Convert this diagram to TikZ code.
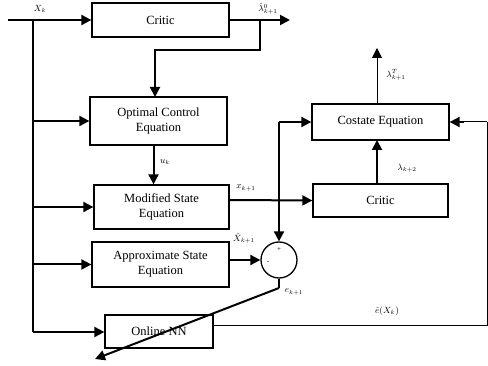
\documentclass[tikz,border=0pt]{standalone}
\usepackage{fontspec}
\setmainfont{Liberation Serif}
\usetikzlibrary{arrows.meta,calc}
\tikzset{
  blk/.style={draw, line width=1.3pt, align=center, inner sep=1pt,
    font=\fontsize{12.5}{15}\selectfont},
  arr/.style={line width=2pt, -{Triangle[length=10pt,width=10pt]}},
  wire/.style={line width=2pt},
  thin/.style={line width=1pt},
  lbl/.style={font=\fontsize{9}{10}\selectfont, inner sep=1pt},
  sumnode/.style={draw, circle, line width=1.3pt, minimum size=36pt, inner sep=0pt}
}
\begin{document}
\begin{tikzpicture}[x=1pt,y=-1pt]
\useasboundingbox (0,0) rectangle (488,366);

% blocks
\node[blk, minimum width=137pt, minimum height=34pt] (critA) at (160.5,20) {Critic};
\node[blk, minimum width=137pt, minimum height=48pt] (ocq) at (158.5,121) {Optimal Control\\Equation};
\node[blk, minimum width=135pt, minimum height=44pt] (mse) at (161.5,207) {Modified State\\Equation};
\node[blk, minimum width=137pt, minimum height=45pt] (ase) at (160.5,264.5) {Approximate State\\Equation};
\node[blk, minimum width=108pt, minimum height=33pt] (onn) at (159,331.5) {Online NN};
\node[blk, minimum width=137pt, minimum height=36pt] (cost) at (380.5,122) {Costate Equation};
\node[blk, minimum width=135pt, minimum height=33pt] (critB) at (380.5,200.5) {Critic};
\node[sumnode] (sum) at (279,260) {};
\node[font=\fontsize{7}{7}\selectfont] at (279,250) {+};
\node[font=\fontsize{7}{7}\selectfont] at (268,263) {-};

% free ends and branch points
\coordinate (in) at (8,20);
\coordinate (spine) at (33,20);
\coordinate (spineEnd) at (33,332);
\coordinate (lamOut) at (290,20);
\coordinate (tapA) at (260,20);
\coordinate (ocqIn) at (155,97);
\coordinate (costOut) at (377,48);
\coordinate (costLink) at (377,140);
\coordinate (errKnee) at (279,288);
\coordinate (errEnd) at (95,359);
\coordinate (fbCorner) at (487,326);

% state input and its distribution
\draw[arr] (in) -- (critA.west);
\draw[wire] (spine) -- (spineEnd);
\draw[arr] (spine |- ocq.west) -- (ocq.west);
\draw[arr] (spine |- mse.west) -- (mse.west);
\draw[arr] (spine |- ase.west) -- (ase.west);
\draw[arr] (spineEnd) -- (onn.west |- spineEnd);

% top critic output
\draw[arr] (critA.east) -- (lamOut);
\draw[arr] (tapA) -- (tapA |- 0,50) -| (ocqIn);

% control to modified state
\draw[arr] ([xshift=-5pt]ocq.south) -- ([xshift=-8pt]mse.north);

% modified state to second critic and costate
\draw[arr] ([yshift=7pt]mse.east) -- (critB.west);
\draw[wire] (sum.north |- cost.west) -- (sum.north |- critB.west);
\draw[arr] (sum.north |- cost.west) -- (cost.west);
\draw[arr] (sum.north |- critB.west) -- (sum.north);
\draw[arr] (costLink |- critB.north) -- (costLink);
\draw[thin, -{Triangle[length=10pt,width=10pt]}] (costOut |- cost.north) -- (costOut);

% approximate state into the summing junction
\draw[arr] (ase.east |- sum.west) -- (sum.west);

% error path through the online network
\draw[wire] (sum.south) -- (errKnee);
\draw[arr] (errKnee) -- (errEnd);

% online network feedback to the costate equation
\draw[thin] ([yshift=5.5pt]onn.east) -- (fbCorner) -- (fbCorner |- cost.east);
\draw[line width=1pt] (fbCorner |- cost.east) -- ([xshift=10pt]cost.east);
\draw[arr] ([xshift=14pt]cost.east) -- (cost.east);

% labels
\node[lbl] at (40,9) {$X_k$};
\node[lbl] at (268,9) {$\hat{\lambda}^{0}_{k+1}$};
\node[lbl] at (165,162) {$u_k$};
\node[lbl] at (246,188) {$x_{k+1}$};
\node[lbl] at (244,238) {$\hat{X}_{k+1}$};
\node[lbl] at (294,292) {$e_{k+1}$};
\node[lbl] at (396,75) {$\lambda^{T}_{k+1}$};
\node[lbl] at (407,168) {$\lambda_{k+2}$};
\node[lbl] at (387,311) {$\hat{e}(X_k)$};
\end{tikzpicture}
\end{document}
